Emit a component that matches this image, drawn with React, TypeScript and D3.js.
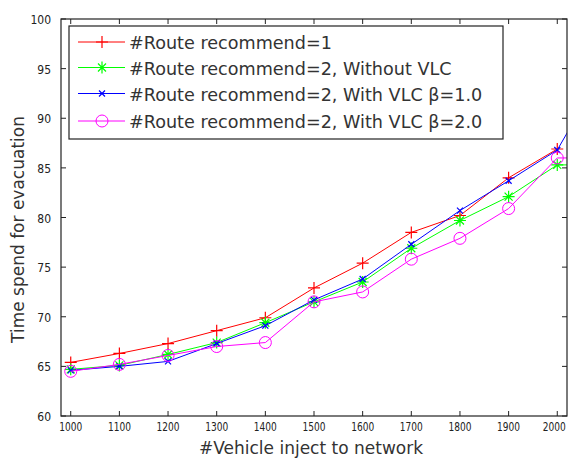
import React from "react";
import * as d3 from "d3";

const width = 569;
const height = 459;
const margin = { top: 19, right: 2, bottom: 43, left: 61 };

const xTicks = [1000, 1100, 1200, 1300, 1400, 1500, 1600, 1700, 1800, 1900, 2000];
const yTicks = [60, 65, 70, 75, 80, 85, 90, 95, 100];

const vehicles = [1000, 1100, 1200, 1300, 1400, 1500, 1600, 1700, 1800, 1900, 2000, 2100];
const route1 = [65.4, 66.3, 67.3, 68.6, 69.9, 72.9, 75.4, 78.5, 80.2, 84.0, 86.9];
const route2NoVlc = [64.7, 65.1, 66.2, 67.4, 69.4, 71.5, 73.5, 76.9, 79.7, 82.1, 85.3, 85.3];
const route2Beta1 = [64.6, 65.0, 65.5, 67.3, 69.1, 71.7, 73.8, 77.3, 80.7, 83.7, 86.8, 95.3];
const route2Beta2 = [64.5, 65.2, 66.1, 67.0, 67.4, 71.5, 72.5, 75.8, 77.9, 80.9, 86.0, 86.0];

const seriesNames = [
  "#Route recommend=1",
  "#Route recommend=2, Without VLC",
  "#Route recommend=2, With VLC β=1.0",
  "#Route recommend=2, With VLC β=2.0",
];
const seriesColors = ["#ff0000", "#00ff00", "#0000ff", "#ff00ff"];
const seriesMarkers = ["plus", "star", "cross", "circle"];
const seriesValues = [route1, route2NoVlc, route2Beta1, route2Beta2];

const x = d3.scaleLinear().domain([980, 2020]).range([margin.left, width - margin.right]);
const y = d3.scaleLinear().domain([60, 100]).range([height - margin.bottom, margin.top]);

function Marker({ type, cx, cy, color }: { type: string; cx: number; cy: number; color: string }) {
  const s = 6;
  if (type === "circle") return <circle cx={cx} cy={cy} r={6} fill="none" stroke={color} strokeWidth={1} />;
  const plus = `M${cx - s},${cy}H${cx + s}M${cx},${cy - s}V${cy + s}`;
  const c = 4;
  const cross = `M${cx - c},${cy - c}L${cx + c},${cy + c}M${cx - c},${cy + c}L${cx + c},${cy - c}`;
  let d = plus;
  if (type === "cross") d = `M${cx - 3},${cy - 3}L${cx + 3},${cy + 3}M${cx - 3},${cy + 3}L${cx + 3},${cy - 3}`;
  if (type === "star") d = plus + cross;
  return <path d={d} stroke={color} strokeWidth={1.2} fill="none" />;
}

export default function App() {
  const line = d3
    .line<number>()
    .x((_, i) => x(vehicles[i]))
    .y((d) => y(d));
  const x0 = margin.left;
  const x1 = width - margin.right;
  const y0 = margin.top;
  const y1 = height - margin.bottom;
  const tickFont = "'DejaVu Sans Condensed', 'DejaVu Sans', sans-serif";
  const labelFont = "'DejaVu Sans', sans-serif";
  const legend = { x: 69, y: 26, w: 434, h: 113, rowY: [42, 67.5, 93.5, 121] };

  return (
    <svg width={width} height={height} style={{ position: "absolute", left: 0, top: 0, background: "#fff" }}>
      <defs>
        <clipPath id="plot">
          <rect x={x0} y={y0} width={x1 - x0} height={y1 - y0} />
        </clipPath>
      </defs>
      <rect x={0} y={0} width={width} height={height} fill="#fff" />

      {/* series */}
      <g clipPath="url(#plot)">
        {seriesValues.map((vals, k) => (
          <g key={k}>
            <path d={line(vals) || ""} fill="none" stroke={seriesColors[k]} strokeWidth={1} />
            {vals.map((v, i) => (
              <Marker key={i} type={seriesMarkers[k]} cx={x(vehicles[i])} cy={y(v)} color={seriesColors[k]} />
            ))}
          </g>
        ))}
      </g>

      {/* axes box */}
      <rect x={x0} y={y0} width={x1 - x0} height={y1 - y0} fill="none" stroke="#222" strokeWidth={1.2} />
      {xTicks.map((t) => (
        <g key={t}>
          <line x1={x(t)} x2={x(t)} y1={y1} y2={y1 - 5} stroke="#222" />
          <line x1={x(t)} x2={x(t)} y1={y0} y2={y0 + 5} stroke="#222" />
          <text
            x={t === 2000 ? x(t) - 3 : x(t)}
            y={y1 + 15}
            textAnchor="middle"
            fontFamily={tickFont}
            fontSize={12}
            textLength={23}
            lengthAdjust="spacingAndGlyphs"
            fill="#222"
          >
            {t}
          </text>
        </g>
      ))}
      {yTicks.map((t) => (
        <g key={t}>
          <line x1={x0} x2={x0 + 5} y1={y(t)} y2={y(t)} stroke="#222" />
          <line x1={x1} x2={x1 - 5} y1={y(t)} y2={y(t)} stroke="#222" />
          <text x={x0 - 10} y={y(t) + 5} textAnchor="end" fontFamily={tickFont} fontSize={12} fill="#222">
            {t}
          </text>
        </g>
      ))}

      <text x={(x0 + x1) / 2 - 3} y={454} textAnchor="middle" fontFamily={labelFont} fontSize={17} fill="#333">
        #Vehicle inject to network
      </text>
      <text
        transform={`translate(24,${(y0 + y1) / 2 + 12}) rotate(-90)`}
        textAnchor="middle"
        fontFamily={labelFont}
        fontSize={17}
        fill="#333"
      >
        Time spend for evacuation
      </text>

      {/* legend */}
      <rect x={legend.x} y={legend.y} width={legend.w} height={legend.h} fill="#fff" stroke="#222" strokeWidth={1.2} />
      {seriesNames.map((name, k) => {
        const ry = legend.rowY[k];
        return (
          <g key={k}>
            <line x1={78} x2={125} y1={ry} y2={ry} stroke={seriesColors[k]} strokeWidth={1} />
            <Marker type={seriesMarkers[k]} cx={102} cy={ry} color={seriesColors[k]} />
            <text x={129} y={ry + 7} fontFamily={labelFont} fontSize={17.6} fill="#333">
              {name}
            </text>
          </g>
        );
      })}
    </svg>
  );
}
